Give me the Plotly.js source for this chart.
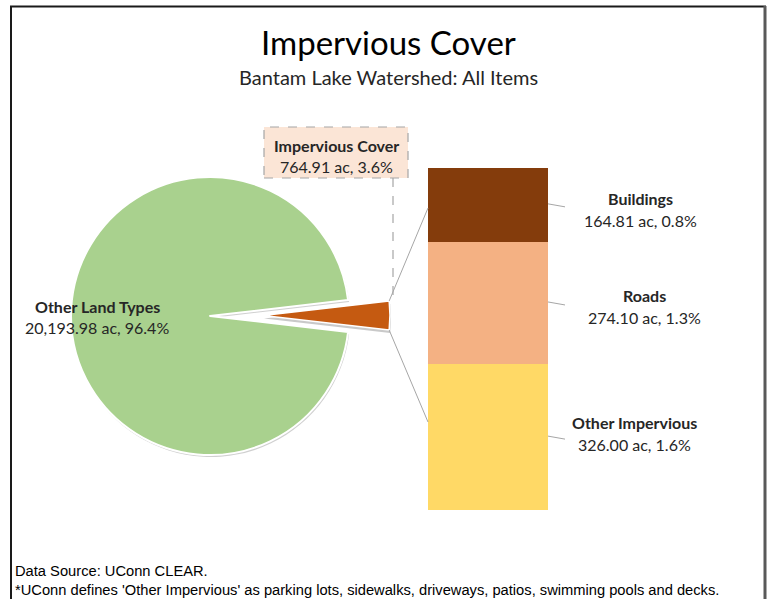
<!DOCTYPE html>
<html><head><meta charset="utf-8">
<script src="https://cdn.plot.ly/plotly-3.0.1.min.js"></script>
<style>html,body{margin:0;padding:0;background:#fff}</style>
</head><body><div id="chart" style="width:772px;height:599px"></div>
<script>
// ---- data ----
const pieLabels = ["Impervious Cover", "Other Land Types"];
const pieAcres = [764.91, 20193.98];
const piePercents = [3.6, 96.4];
const barLabels = ["Other Impervious", "Roads", "Buildings"];
const barAcres = [326.00, 274.10, 164.81];
const barPercents = [1.6, 1.3, 0.8];
const titleText = "Impervious Cover";
const subtitleText = "Bantam Lake Watershed: All Items";
const footnotes = ["Data Source: UConn CLEAR.",
  "*UConn defines 'Other Impervious' as parking lots, sidewalks, driveways, patios, swimming pools and decks."];

// ---- styles ----
const W = 772, H = 599;
const FONT = "Lato, 'Open Sans', sans-serif";
const FOOT = "'Liberation Sans', Arial, sans-serif";
const barColors = ["#FFD966", "#F4B183", "#843C0C"];
const greenCol = "#A9D18E", orangeCol = "#C55A11";
const px = x => x / W, py = y => 1 - y / H;
const fmt = v => v.toLocaleString('en-US', {minimumFractionDigits: 2, maximumFractionDigits: 2});

const total = pieAcres[0] + pieAcres[1];
const frac = pieAcres[0] / total;
const rot = 90 - frac * 180;
const impTotal = barAcres.reduce((a, b) => a + b, 0);

// geometry (pixels)
const gC = [210, 316], gR = 139;
const oC = [263, 315.5], oR = 127;
const barL = 428, barR = 548, barTop = 168, barBot = 510;

const traces = [];
// faint shadow under the main pie
traces.push({
  type: 'pie', labels: pieLabels, values: pieAcres, sort: false, direction: 'clockwise', rotation: rot,
  marker: {colors: ['rgba(0,0,0,0)', 'rgba(120,120,120,0.35)'], line: {width: 0}},
  textinfo: 'none', hoverinfo: 'skip', showlegend: false,
  domain: {x: [px(gC[0] - gR + 1), px(gC[0] + gR + 1)], y: [py(gC[1] + gR + 2), py(gC[1] - gR + 2)]}
});
traces.push({
  type: 'pie', labels: pieLabels, values: pieAcres, sort: false, direction: 'clockwise', rotation: rot,
  marker: {colors: ['rgba(0,0,0,0)', greenCol], line: {color: ['rgba(0,0,0,0)', '#ffffff'], width: [0, 2]}},
  textinfo: 'none', hoverinfo: 'skip', showlegend: false,
  domain: {x: [px(gC[0] - gR), px(gC[0] + gR)], y: [py(gC[1] + gR), py(gC[1] - gR)]}
});
// shadow under the exploded slice
traces.push({
  type: 'pie', labels: pieLabels, values: pieAcres, sort: false, direction: 'clockwise', rotation: rot,
  marker: {colors: ['rgba(120,120,120,0.4)', 'rgba(0,0,0,0)'], line: {width: 0}},
  textinfo: 'none', hoverinfo: 'skip', showlegend: false,
  domain: {x: [px(oC[0] - oR + 1), px(oC[0] + oR + 1)], y: [py(oC[1] + oR + 3), py(oC[1] - oR + 3)]}
});
traces.push({
  type: 'pie', labels: pieLabels, values: pieAcres, sort: false, direction: 'clockwise', rotation: rot,
  marker: {colors: [orangeCol, 'rgba(0,0,0,0)'], line: {color: ['#ffffff', 'rgba(0,0,0,0)'], width: [1.5, 0]}},
  textinfo: 'none', hoverinfo: 'skip', showlegend: false,
  domain: {x: [px(oC[0] - oR), px(oC[0] + oR)], y: [py(oC[1] + oR), py(oC[1] - oR)]}
});
for (let i = 0; i < barLabels.length; i++) {
  traces.push({type: 'bar', x: ['imp'], y: [barAcres[i]], name: barLabels[i], width: 1,
    marker: {color: barColors[i], line: {width: 0}}, hoverinfo: 'skip', showlegend: false});
}

const ann = [];
const txt = (x, y, text, size, bold, extra) => Object.assign({xref: 'paper', yref: 'paper', x: px(x), y: py(y),
  text: bold ? '<b>' + text + '</b>' : text, showarrow: false, xanchor: 'center', yanchor: 'middle',
  font: {family: FONT, size: size, color: '#262626'}}, extra || {});
ann.push(txt(388, 42, titleText, 33, false, {font: {family: FONT, size: 33, color: '#000'}}));
ann.push(txt(388, 77, subtitleText, 20, false, {font: {family: FONT, size: 20, color: '#262626'}}));
ann.push(txt(13, 571, footnotes[0], 14.7, false, {xanchor: 'left', font: {family: FOOT, size: 14.7, color: '#000'}}));
ann.push(txt(13, 590, footnotes[1], 14.7, false, {xanchor: 'left', font: {family: FOOT, size: 14.7, color: '#000'}}));
// pie labels
const LS = 16;
ann.push(txt(97, 306, pieLabels[1], LS, true));
ann.push(txt(97, 327, fmt(pieAcres[1]) + ' ac, ' + piePercents[1].toFixed(1) + '%', LS, false));
ann.push(txt(336, 145, pieLabels[0], LS, true));
ann.push(txt(336, 166, fmt(pieAcres[0]) + ' ac, ' + piePercents[0].toFixed(1) + '%', LS, false));
// bar labels
const labX = [634, 644, 640];
const labTop = [423, 295, 199];
let cum = 0;
const shapes = [];
const yScale = (barBot - barTop) / impTotal;
for (let i = 0; i < barLabels.length; i++) {
  const mid = cum + barAcres[i] / 2;
  const midPx = barBot - mid * yScale;
  ann.push({xref: 'paper', yref: 'y', x: px(labX[i]), y: mid, yshift: -(labTop[i] - midPx), text: '<b>' + barLabels[i] + '</b>',
    showarrow: false, xanchor: 'center', yanchor: 'middle', font: {family: FONT, size: LS, color: '#262626'}});
  ann.push({xref: 'paper', yref: 'y', x: px(labX[i]), y: mid, yshift: -(labTop[i] + 22 - midPx),
    text: fmt(barAcres[i]) + ' ac, ' + barPercents[i].toFixed(1) + '%',
    showarrow: false, xanchor: 'center', yanchor: 'middle', font: {family: FONT, size: LS, color: '#262626'}});
  shapes.push({type: 'line', xref: 'paper', yref: 'paper', x0: px(barR), y0: py(midPx - 1), x1: px(barR + 17), y1: py(midPx + 2),
    line: {color: '#A6A6A6', width: 1}});
  cum += barAcres[i];
}
// impervious label box + leader
shapes.push({type: 'rect', xref: 'paper', yref: 'paper', x0: px(264), x1: px(408), y0: py(178), y1: py(127),
  fillcolor: '#FBE5D6', line: {color: '#A6A6A6', width: 1.2, dash: 'dash'}, layer: 'below'});
shapes.push({type: 'line', xref: 'paper', yref: 'paper', x0: px(393), x1: px(393), y0: py(178), y1: py(303),
  line: {color: '#A6A6A6', width: 1.2, dash: 'dash'}});
// connectors from orange slice corners
const half = frac * Math.PI;
const cx = oC[0] + oR * Math.cos(half);
shapes.push({type: 'line', xref: 'paper', yref: 'paper', x0: px(cx), y0: py(oC[1] - oR * Math.sin(half)), x1: px(barL), y1: py(208),
  line: {color: '#A6A6A6', width: 1}});
shapes.push({type: 'line', xref: 'paper', yref: 'paper', x0: px(cx), y0: py(oC[1] + oR * Math.sin(half)), x1: px(barL), y1: py(422),
  line: {color: '#A6A6A6', width: 1}});
// frame
shapes.push({type: 'line', xref: 'paper', yref: 'paper', x0: px(11), x1: px(11), y0: py(6), y1: py(599), line: {color: '#1a1a1a', width: 2}});
shapes.push({type: 'line', xref: 'paper', yref: 'paper', x0: px(10), x1: px(766), y0: py(6.5), y1: py(6.5), line: {color: '#1a1a1a', width: 2}});
shapes.push({type: 'line', xref: 'paper', yref: 'paper', x0: px(765), x1: px(765), y0: py(6), y1: py(599), line: {color: '#595959', width: 3}});

const layout = {
  width: W, height: H, margin: {l: 0, r: 0, t: 0, b: 0}, paper_bgcolor: '#fff', plot_bgcolor: 'rgba(0,0,0,0)',
  barmode: 'stack', bargap: 0, showlegend: false,
  xaxis: {domain: [px(barL), px(barR)], range: [-0.5, 0.5], visible: false, fixedrange: true},
  yaxis: {domain: [py(barBot), py(barTop)], range: [0, impTotal], visible: false, fixedrange: true},
  annotations: ann, shapes: shapes
};
Plotly.newPlot('chart', traces, layout, {staticPlot: true, displayModeBar: false});
</script></body></html>
